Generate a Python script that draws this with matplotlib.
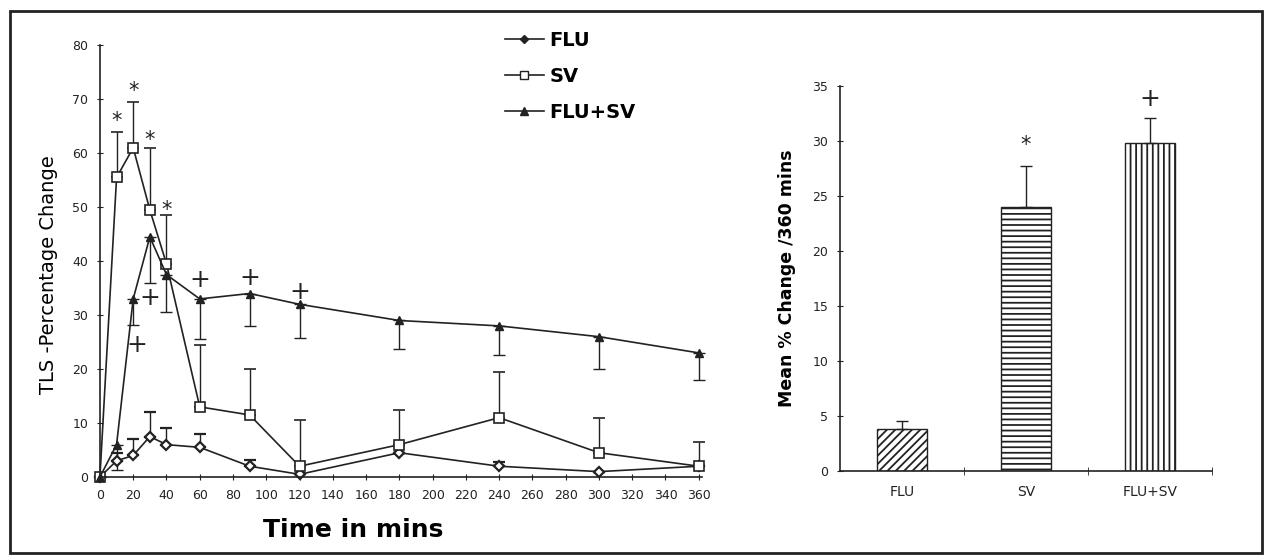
import matplotlib
matplotlib.use("Agg")
import matplotlib.pyplot as plt
from matplotlib.patches import Rectangle
from matplotlib.lines import Line2D

plt.rcParams["font.family"] = ["DejaVu Sans"]
plt.rcParams["hatch.linewidth"] = 1.3

# time course data (% change in TLS)
times = [0, 10, 20, 30, 40, 60, 90, 120, 180, 240, 300, 360]
flu = [0, 3, 4, 7.5, 6, 5.5, 2, 0.5, 4.5, 2, 1, 2]
flu_up = [0, 1.5, 3, 4.5, 3, 2.5, 1.2, 0, 0, 0.8, 0, 0]
sv = [0, 55.5, 61, 49.5, 39.5, 13, 11.5, 2, 6, 11, 4.5, 2]
sv_up = [0, 8.5, 8.5, 11.5, 9, 11.5, 8.5, 8.5, 6.5, 8.5, 6.5, 4.5]
combo = [0, 6, 33, 44.5, 37.5, 33, 34, 32, 29, 28, 26, 23]
combo_dn = [0, 4.7, 4.8, 8.5, 7, 7.4, 6, 6.2, 5.2, 5.3, 6, 5]

# significance marks on the time course
star_x = [10, 20, 30, 40]
star_y = [66, 71.5, 62.5, 49.5]
plus_x = [22, 30, 60, 90, 120]
plus_y = [24.4, 33.1, 36.5, 36.8, 34.3]

# mean % change over 360 mins
groups = ["FLU", "SV", "FLU+SV"]
means = [3.8, 24, 29.8]
means_up = [0.8, 3.7, 2.3]
bar_hatch = ["////", "---", "|||"]
bar_marks = ["", "*", "+"]
mark_y = [0, 29.6, 33.8]

ink = "#222222"

fig = plt.figure(figsize=(12.65, 5.55), dpi=100)
fig.patches.append(Rectangle((10 / 1265, 2 / 555), 1252 / 1265, 542 / 555,
                             transform=fig.transFigure, fill=False,
                             edgecolor=ink, linewidth=2))

# left: time course
ax = fig.add_axes([0.079, 0.1405, 0.476, 0.778])
ax.errorbar(times, flu, yerr=[[0] * len(flu), flu_up], color=ink, lw=1.2,
            marker="D", ms=5, mfc="white", mec=ink, mew=1.6, capsize=4,
            elinewidth=1, clip_on=False)
ax.errorbar(times, sv, yerr=[[0] * len(sv), sv_up], color=ink, lw=1.2,
            marker="s", ms=7, mfc="white", mec=ink, mew=1.2, capsize=4,
            elinewidth=1, clip_on=False)
ax.errorbar(times, combo, yerr=[combo_dn, [0] * len(combo)], color=ink, lw=1.2,
            marker="^", ms=6, mfc=ink, mec=ink, capsize=4,
            elinewidth=1, clip_on=False)
for x, y in zip(star_x, star_y):
    ax.text(x, y, "*", ha="center", va="center", fontsize=15, color=ink)
for x, y in zip(plus_x, plus_y):
    ax.text(x, y, "+", ha="center", va="center", fontsize=18, color=ink)

ax.set_xlim(0, 362)
ax.set_ylim(0, 80)
ax.set_xticks(range(0, 361, 20))
ax.set_yticks(range(0, 81, 10))
ax.spines["top"].set_visible(False)
ax.spines["right"].set_visible(False)
for s in ["left", "bottom"]:
    ax.spines[s].set_color(ink)
    ax.spines[s].set_linewidth(1.2)
ax.tick_params(direction="inout", length=5, labelsize=9, colors=ink, pad=6)
ax.set_xlabel("Time in mins", fontsize=18, fontweight="bold")
ax.xaxis.set_label_coords(0.42, -0.095)
ax.set_ylabel("TLS -Percentage Change", fontsize=14)
ax.yaxis.set_label_coords(-0.07, 0.469)

handles = [
    Line2D([], [], color=ink, lw=1.2, marker="D", ms=4, mfc=ink, mec=ink),
    Line2D([], [], color=ink, lw=1.2, marker="s", ms=6, mfc="white", mec=ink),
    Line2D([], [], color=ink, lw=1.2, marker="^", ms=6, mfc=ink, mec=ink),
]
fig.legend(handles, groups, loc="upper left",
           bbox_to_anchor=(505 / 1265, 1 - 31 / 555), frameon=False,
           prop={"weight": "bold", "size": 14}, borderpad=0,
           borderaxespad=0, handlelength=2.0, handletextpad=0.3,
           labelspacing=0.88)

# right: mean bars
bx = fig.add_axes([0.664, 0.151, 0.294, 0.694])
pos = list(range(len(groups)))
bx.bar(pos, means, width=0.4, color="white", edgecolor=ink, hatch=bar_hatch,
       linewidth=1)
bx.errorbar(pos, means, yerr=[[0] * len(means), means_up], fmt="none",
            ecolor=ink, elinewidth=1, capsize=4)
for x, m, y in zip(pos, bar_marks, mark_y):
    if m:
        bx.text(x, y, m, ha="center", va="center",
                fontsize=15 if m == "*" else 18, color=ink)

bx.set_xlim(-0.5, 2.5)
bx.set_ylim(0, 35)
bx.set_xticks(pos)
bx.set_xticklabels(groups)
bx.set_xticks([0.5, 1.5, 2.5], minor=True)
bx.set_yticks(range(0, 36, 5))
bx.spines["top"].set_visible(False)
bx.spines["right"].set_visible(False)
for s in ["left", "bottom"]:
    bx.spines[s].set_color(ink)
    bx.spines[s].set_linewidth(1.2)
bx.tick_params(axis="x", which="major", length=0, labelsize=10, pad=10,
               colors=ink)
bx.tick_params(axis="x", which="minor", direction="inout", length=6,
               colors=ink)
bx.tick_params(axis="y", direction="inout", length=5, labelsize=9,
               colors=ink, pad=6)
bx.set_ylabel("Mean % Change /360 mins", fontsize=12.5, fontweight="bold",
              labelpad=12)

fig.savefig("out.png", dpi=100, facecolor="white")
